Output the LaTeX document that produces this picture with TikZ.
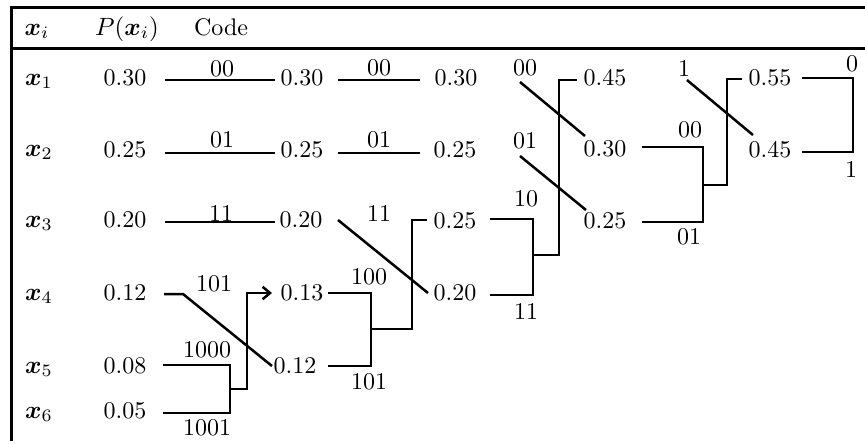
\documentclass[tikz,border=0pt]{standalone}
\usepackage{bm}
\usetikzlibrary{arrows.meta}
\tikzset{
  txt/.style={inner sep=0pt, font=\fontsize{9.6}{11}\selectfont},
  hdr/.style={txt, anchor=base},
  wire/.style={line width=1pt},
  framerule/.style={line width=1.2pt},
  tipend/.style={-{Straight Barb[length=3pt,width=5pt]}}
}
\begin{document}
\begin{tikzpicture}[x=0.4pt,y=-0.4pt]

\useasboundingbox (0,0) rectangle (865,443);

% table frame
\draw[framerule] (10,7) -- (865,7);
\draw[framerule] (10,48) -- (865,48);
\draw[framerule] (11,7) -- (11,441);

% header
\node[hdr] (hx) at (37,35) {$\bm{x}_{i}$};
\node[hdr] (hp) at (127,35) {$P(\bm{x}_{i})$};
\node[hdr] (hc) at (221,35) {Code};

% symbols
\node[hdr] (s1) at (39,85)  {$\bm{x}_1$};
\node[hdr] (s2) at (39,156) {$\bm{x}_2$};
\node[hdr] (s3) at (39,227) {$\bm{x}_3$};
\node[hdr] (s4) at (39,300) {$\bm{x}_4$};
\node[hdr] (s5) at (39,373) {$\bm{x}_5$};
\node[hdr] (s6) at (39,418) {$\bm{x}_6$};

% probabilities, stage 0
\node[txt] (p1) at (125,78)  {0.30};
\node[txt] (p2) at (125,150) {0.25};
\node[txt] (p3) at (125,220) {0.20};
\node[txt] (p4) at (125,293) {0.12};
\node[txt] (p5) at (125,366) {0.08};
\node[txt] (p6) at (125,411) {0.05};

% stage 1
\node[txt] (a1) at (302,78)  {0.30};
\node[txt] (a2) at (302,150) {0.25};
\node[txt] (a3) at (301,220) {0.20};
\node[txt] (a4) at (302,293) {0.13};
\node[txt] (a5) at (295,366) {0.12};

% stage 2
\node[txt] (b1) at (456,78)  {0.30};
\node[txt] (b2) at (455,150) {0.25};
\node[txt] (b3) at (455,221) {0.25};
\node[txt] (b4) at (455,293) {0.20};

% stage 3
\node[txt] (c1) at (605,78)  {0.45};
\node[txt] (c2) at (605,149) {0.30};
\node[txt] (c3) at (605,221) {0.25};

% stage 4
\node[txt] (d1) at (770,78)  {0.55};
\node[txt] (d2) at (770,150) {0.45};

% junction points of the merges
\coordinate (j1) at (230,389);
\coordinate (j2) at (371,329);
\coordinate (j3) at (533,255);
\coordinate (j4) at (703,185);
\coordinate (j5) at (853,115);

% stage 0 -> 1
\draw[wire] ([shift={(40,2)}]p1.center) -- ([shift={(-27,2)}]a1.center);
\draw[wire] ([shift={(40,3)}]p2.center) -- ([shift={(-27,3)}]a2.center);
\draw[wire] ([shift={(40,2)}]p3.center) -- ([shift={(-26,2)}]a3.center);
\draw[wire] ([shift={(39,1)}]p4.center) -- ++(19,0) -- ([shift={(-23,0)}]a5.center);
\draw[wire] ([shift={(38,-1)}]p5.center) -| (j1) |- ([shift={(38,2)}]p6.center);
\draw[wire,tipend] (j1) -- ++(17,0) |- ([shift={(-30,0)}]a4.center);

% stage 1 -> 2
\draw[wire] ([shift={(36,2)}]a1.center) -- ([shift={(-36,2)}]b1.center);
\draw[wire] ([shift={(36,3)}]a2.center) -- ([shift={(-35,3)}]b2.center);
\draw[wire] ([shift={(37,0)}]a3.center) -- ([shift={(-27,0)}]b4.center);
\draw[wire] ([shift={(26,0)}]a4.center) -| (j2) |- ([shift={(33,0)}]a5.center);
\draw[wire] (j2) -- ++(41,0) |- ([shift={(-28,-1)}]b3.center);

% stage 2 -> 3
\draw[wire] ([shift={(64,4)}]b1.center) -- ([shift={(-20,-13)}]c2.center);
\draw[wire] ([shift={(65,6)}]b2.center) -- ([shift={(-19,-11)}]c3.center);
\draw[wire] ([shift={(35,-2)}]b3.center) -| (j3) |- ([shift={(35,2)}]b4.center);
\draw[wire] (j3) -- ++(26,0) |- ([shift={(-28,2)}]c1.center);

% stage 3 -> 4
\draw[wire] ([shift={(82,2)}]c1.center) -- ([shift={(-17,-15)}]d2.center);
\draw[wire] ([shift={(37,-2)}]c2.center) -| (j4) |- ([shift={(37,1)}]c3.center);
\draw[wire] (j4) -- ++(24,0) |- ([shift={(-28,1)}]d1.center);

% final merge
\draw[wire] ([shift={(32,0)}]d1.center) -| (j5) |- ([shift={(32,2)}]d2.center);

% code digits
\node[txt] (k1)  at (222,69)  {00};
\node[txt] (k2)  at (222,140) {01};
\node[txt] (k3)  at (221,213) {11};
\node[txt] (k4)  at (214,284) {101};
\node[txt] (k5)  at (207,350) {1000};
\node[txt] (k6)  at (207,428) {1001};
\node[txt] (k7)  at (379,68)  {00};
\node[txt] (k8)  at (379,140) {01};
\node[txt] (k9)  at (379,213) {11};
\node[txt] (k10) at (369,277) {100};
\node[txt] (k11) at (369,382) {101};
\node[txt] (k12) at (525,68)  {00};
\node[txt] (k13) at (525,141) {01};
\node[txt] (k14) at (526,199) {10};
\node[txt] (k15) at (526,311) {11};
\node[txt] (k16) at (684,68)  {1};
\node[txt] (k17) at (690,130) {00};
\node[txt] (k18) at (689,237) {01};
\node[txt] (k19) at (852,64)  {0};
\node[txt] (k20) at (851,169) {1};

\end{tikzpicture}
\end{document}
